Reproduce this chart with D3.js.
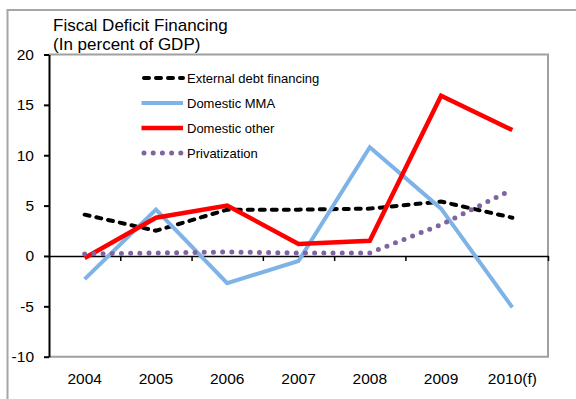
<!DOCTYPE html>
<html>
<head>
<meta charset="utf-8">
<script src="https://cdn.jsdelivr.net/npm/d3@7/dist/d3.min.js"></script>
<style>
  html, body { margin: 0; padding: 0; background: #fff; }
  svg { display: block; font-family: "Liberation Sans", Arial, sans-serif; }
</style>
</head>
<body>
<svg id="chart" width="576" height="399"></svg>
<script>
// Fiscal deficit financing, percent of GDP
const years = ["2004", "2005", "2006", "2007", "2008", "2009", "2010(f)"];
const externalDebt = [4.1, 2.5, 4.6, 4.6, 4.7, 5.4, 3.8];
const domesticMMA = [-2.3, 4.6, -2.7, -0.5, 10.8, 4.7, -5.1];
const domesticOther = [-0.2, 3.8, 5.0, 1.2, 1.5, 15.9, 12.5];
const privatization = [0.2, 0.3, 0.4, 0.3, 0.3, 3.1, 6.6];
const yTicks = [-10, -5, 0, 5, 10, 15, 20];
const seriesNames = ["External debt financing", "Domestic MMA", "Domestic other", "Privatization"];

const svg = d3.select("#chart");
const plotLeft = 49, plotRight = 548, plotTop = 54.5, plotBottom = 356.7;

const x = d3.scaleBand().domain(years).range([plotLeft, plotRight]).padding(0);
const xEdge = d3.scaleLinear().domain([0, years.length]).range([plotLeft, plotRight]);
const y = d3.scaleLinear().domain([-10, 20]).range([plotBottom, plotTop]);

// outer chart frame (continues past the visible edge)
svg.append("rect")
  .attr("x", 7.5).attr("y", 10).attr("width", 620).attr("height", 440)
  .attr("fill", "none").attr("stroke", "#a6a6a6").attr("stroke-width", 2);

// plot area frame
svg.append("path")
  .attr("d", `M${plotLeft},${plotTop}H${plotRight}V${plotBottom}H${plotLeft}`)
  .attr("fill", "none").attr("stroke", "#a0a0a0").attr("stroke-width", 2);

// title
const title = svg.append("text").attr("x", 53).attr("fill", "#000").style("font-size", "17px");
title.append("tspan").attr("x", 53).attr("y", 31).text("Fiscal Deficit Financing");
title.append("tspan").attr("x", 53).attr("y", 50).text("(In percent of GDP)");

// y axis
const yAxis = svg.append("g")
  .attr("transform", `translate(${plotLeft},0)`)
  .call(d3.axisLeft(y).tickValues(yTicks).tickFormat(d => String(d)).tickSize(5).tickPadding(10).tickSizeOuter(0));
yAxis.select(".domain").attr("stroke", "#000").attr("stroke-width", 2);
yAxis.selectAll(".tick line").attr("stroke", "#000").attr("stroke-width", 2);
yAxis.selectAll(".tick text").style("font-size", "15.5px").attr("fill", "#000");
yAxis.attr("font-family", null);

// zero line with category boundary ticks
const xAxis = svg.append("g")
  .attr("transform", `translate(0,${y(0)})`)
  .call(d3.axisBottom(xEdge).tickValues(d3.range(1, years.length + 1)).tickFormat("").tickSize(5).tickSizeOuter(0));
xAxis.select(".domain").attr("stroke", "#000").attr("stroke-width", 1.5);
xAxis.selectAll(".tick line").attr("stroke", "#000").attr("stroke-width", 1.5);

// category labels under the plot
const xLabels = svg.append("g")
  .attr("transform", `translate(0,${plotBottom})`)
  .call(d3.axisBottom(x).tickSize(0).tickPadding(16));
xLabels.select(".domain").remove();
xLabels.selectAll(".tick text").style("font-size", "15.5px").attr("fill", "#000");
xLabels.attr("font-family", null);

// series
const series = [
  { name: seriesNames[0], values: externalDebt, color: "#000000", width: 4, dash: "5,7", cap: "round" },
  { name: seriesNames[1], values: domesticMMA, color: "#7db3e6", width: 4, dash: null, cap: "butt" },
  { name: seriesNames[2], values: domesticOther, color: "#ff0000", width: 4.5, dash: null, cap: "butt" },
  { name: seriesNames[3], values: privatization, color: "#8064a2", width: 5, dash: "0,9.2", cap: "round" }
];

const line = d3.line()
  .x((d, i) => x(years[i]) + x.bandwidth() / 2)
  .y(d => y(d));

svg.append("g").selectAll("path")
  .data(series)
  .join("path")
  .attr("d", s => line(s.values))
  .attr("fill", "none")
  .attr("stroke", s => s.color)
  .attr("stroke-width", s => s.width)
  .attr("stroke-dasharray", s => s.dash)
  .attr("stroke-linecap", s => s.cap)
  .attr("stroke-linejoin", "miter");

// legend
const legend = svg.append("g");
const legendRow = d3.scalePoint().domain(seriesNames).range([78, 153]);
const lg = legend.selectAll("g").data(series).join("g")
  .attr("transform", s => `translate(0,${legendRow(s.name)})`);
lg.append("line")
  .attr("x1", s => s.cap === "round" ? 144 : 141.5)
  .attr("x2", 183)
  .attr("stroke", s => s.color)
  .attr("stroke-width", s => s.width)
  .attr("stroke-dasharray", s => s.dash)
  .attr("stroke-linecap", s => s.cap);
lg.append("text")
  .attr("x", 187).attr("dy", "0.36em")
  .style("font-size", "13px").attr("fill", "#000")
  .text(s => s.name);
</script>
</body>
</html>
